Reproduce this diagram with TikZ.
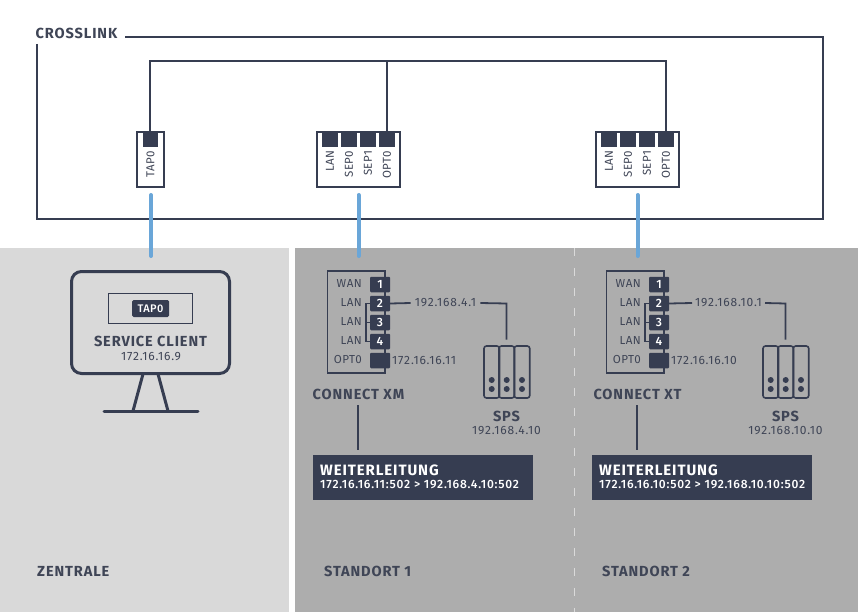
\documentclass[tikz,border=0pt]{standalone}
\usepackage{fontspec}
\setmainfont{Fira Sans}
\newfontfamily\hd[LetterSpace=6,BoldFont={Fira Sans Bold}]{Fira Sans}
\newfontfamily\sm[LetterSpace=4]{Fira Sans}
\newfontfamily\ipf[LetterSpace=7]{Fira Sans}
\newfontfamily\smb[LetterSpace=4]{Fira Sans Medium}
\newfontfamily\fwdf[LetterSpace=6.5]{Fira Sans Medium}
\definecolor{ink}{HTML}{363D51}
\definecolor{txt}{HTML}{3F4556}
\definecolor{wire}{HTML}{6AA6D8}
\definecolor{lightp}{HTML}{D9D9D9}
\definecolor{darkp}{HTML}{ADADAD}
\tikzset{
 line/.style={draw=ink,line width=1.8pt},
 thick line/.style={draw=ink,line width=2pt},
 blue link/.style={draw=wire,line width=4pt,line cap=round},
 panel/.style={fill=#1,draw=none,anchor=north west,inner sep=0pt},
 hwbox/.style={draw=ink,line width=1.6pt,fill=white,inner sep=0pt},
 slot/.style={fill=ink,draw=none,minimum width=15.6pt,minimum height=14.5pt,inner sep=0pt},
 port/.style={fill=ink,draw=none,rounded corners=1pt,minimum width=20pt,minimum height=15.5pt,inner sep=0pt,text=white,font=\smb\fontsize{12}{14}\selectfont},
 slotlabel/.style={rotate=90,anchor=east,text=txt,inner sep=0pt,font=\sm\fontsize{11.5}{12}\selectfont},
 small/.style={text=txt,inner sep=0pt,font=\sm\fontsize{11.6}{14}\selectfont},
 ipaddr/.style={text=txt,inner sep=0pt,font=\ipf\fontsize{12}{14}\selectfont},
 head/.style={text=txt,inner sep=0pt,font=\hd\bfseries\fontsize{14.6}{16}\selectfont},
 unit/.style={draw=ink,line width=1.6pt,rounded corners=2.5pt,minimum width=15.5pt,minimum height=52pt,inner sep=0pt},
 dot/.style={circle,fill=ink,draw=none,minimum size=6pt,inner sep=0pt},
 fwd/.style={fill=ink,draw=none,minimum width=220pt,minimum height=45pt,inner sep=0pt},
}
\newcommand{\boxfour}[2]{% prefix, x of box centre
 \node[hwbox,minimum width=83pt,minimum height=55pt] (#1box) at (#2,159.5) {};
 \node[slot] (#1a) at (#2-28.5,139.5) {};
 \node[slot] (#1b) at (#2-9.5,139.5) {};
 \node[slot] (#1c) at (#2+9.5,139.5) {};
 \node[slot] (#1d) at (#2+28.5,139.5) {};
 \node[slotlabel] (#1la) at (#2-28.5,150.5) {LAN};
 \node[slotlabel] (#1lb) at (#2-9.5,150.5) {SEP0};
 \node[slotlabel] (#1lc) at (#2+9.5,150.5) {SEP1};
 \node[slotlabel] (#1ld) at (#2+28.5,150.5) {OPT0};
}
\newcommand{\site}[6]{% prefix, x offset, model, opt ip, sps ip, forward
 \begin{scope}[shift={(#2,0)}]
 \node[hwbox,fill=none,minimum width=57.5pt,minimum height=102pt] (#1dev) at (356.2,322) {};
 \node[port] (#1p1) at (380,284.5) {1};
 \node[port] (#1p2) at (380,303.5) {2};
 \node[port] (#1p3) at (380,322.5) {3};
 \node[port] (#1p4) at (380,341.5) {4};
 \node[port] (#1p5) at (380,360.5) {};
 \node[small,anchor=east] (#1w) at (362,284) {WAN};
 \node[small,anchor=east] (#1l2) at (362,303) {LAN};
 \node[small,anchor=east] (#1l3) at (362,322) {LAN};
 \node[small,anchor=east] (#1l4) at (362,341) {LAN};
 \node[small,anchor=east] (#1o) at (362,360) {OPT0};
 \coordinate (#1br) at (366,322.5);
 \draw[line] (#1p2.west) -| (#1br) |- (#1p4.west);
 \draw[line] (#1br) -- (#1p3.west);
 \node[ipaddr,anchor=west] (#1opt) at (392,360) {#4};
 \node[unit] (#1u1) at (491.7,372) {};
 \node[unit] (#1u2) at (506.7,372) {};
 \node[unit] (#1u3) at (522,372) {};
 \foreach \n in {1,2,3}{
  \node[dot] at ($(#1u\n.center)+(0,8)$) {};
  \node[dot] at ($(#1u\n.center)+(0,17)$) {};
 }
 \coordinate (#1top) at (506.5,339.5);
 \node[head] (#1name) at (358.5,394.6) {#3};
 \node[head] (#1spsn) at (506.5,416.5) {SPS};
 \node[ipaddr] (#1spsi) at (506.5,431) {#5};
 \coordinate (#1t1) at (358,405);
 \coordinate (#1t2) at (358,450);
 \draw[line] (#1t1) -- (#1t2);
 \node[fwd] (#1fwd) at (423,477.5) {};
 \node[anchor=west,text=white,inner sep=0pt,font=\hd\bfseries\fontsize{15}{16}\selectfont] (#1ft) at (320,470) {WEITERLEITUNG};
 \node[anchor=west,text=white,inner sep=0pt,font=\fwdf\fontsize{12}{14}\selectfont] (#1fa) at (320,485) {#6};
 \end{scope}
}
\usetikzlibrary{calc}
\begin{document}
\begin{tikzpicture}[x=1pt,y=-1pt]
\useasboundingbox (0,0) rectangle (858,612);
\fill[white] (0,0) rectangle (858,612);
\node[panel=lightp,minimum width=289pt,minimum height=364pt] (zentrale) at (0,248) {};
\node[panel=darkp,minimum width=563pt,minimum height=364pt] (standorte) at (295,248) {};
\coordinate (sepT) at (574,248);
\coordinate (sepB) at (574,612);
\draw[white!55!darkp,line width=0.8pt,dash pattern=on 8pt off 12pt] (sepT) -- (sepB);

% crosslink frame
\node[head,anchor=west] (cross) at (35.5,33) {CROSSLINK};
\coordinate (fa) at (37,44);
\coordinate (fb) at (37,219.5);
\coordinate (fc) at (823,219.5);
\coordinate (fd) at (823,37);
\coordinate (fe) at (125,37);
\draw[thick line] (fa) -- (fb) -- (fc) -- (fd) -- (fe);

% switches
\node[hwbox,minimum width=27.5pt,minimum height=55pt] (tapbox) at (150.5,159.5) {};
\node[slot] (tapslot) at (150.5,139.5) {};
\node[slotlabel] (taplab) at (150.5,150.5) {TAP0};
\boxfour{m}{358.5}
\boxfour{n}{637.5}

\coordinate (busL) at (150,61);
\coordinate (busM) at (387,61);
\coordinate (busR) at (666,61);
\coordinate (tapT) at (150,133);
\draw[thick line] (tapT) -- (busL) -- (busR) -- (nd.north);
\draw[thick line] (busM) -- (md.north);

% uplinks
\coordinate (u1a) at (151,195);\coordinate (u1b) at (151,256);
\coordinate (u2a) at (358.5,195);\coordinate (u2b) at (358.5,256);
\coordinate (u3a) at (637.5,195);\coordinate (u3b) at (637.5,256);
\draw[blue link] (u1a) -- (u1b);
\draw[blue link] (u2a) -- (u2b);
\draw[blue link] (u3a) -- (u3b);

% monitor
\node[draw=ink,line width=3pt,rounded corners=10pt,minimum width=158pt,minimum height=102pt,inner sep=0pt] (screen) at (150.5,322.5) {};
\node[draw=ink,line width=1.6pt,minimum width=84pt,minimum height=30pt,inner sep=0pt] (win) at (150.5,308.5) {};
\node[fill=ink,rounded corners=1.5pt,minimum width=37pt,minimum height=17pt,inner sep=0pt,text=white,font=\smb\fontsize{11}{12}\selectfont] (tag) at (150.5,308.5) {TAP0};
\node[head] (sc) at (150.5,341.3) {SERVICE CLIENT};
\node[ipaddr] (scip) at (151,357) {172.16.16.9};
\coordinate (s1) at (143,374);\coordinate (s2) at (133,411);
\coordinate (s3) at (158,374);\coordinate (s4) at (168,411);
\coordinate (b1) at (104,411);\coordinate (b2) at (198,411);
\draw[draw=ink,line width=3pt] (s1) -- (s2);
\draw[draw=ink,line width=3pt] (s3) -- (s4);
\draw[draw=ink,line width=3pt,line cap=round] (b1) -- (b2);

% sites
\site{a}{0}{CONNECT XM}{172.16.16.11}{192.168.4.10}{172.16.16.11:502 \textgreater\ 192.168.4.10:502}
\site{b}{279}{CONNECT XT}{172.16.16.10}{192.168.10.10}{172.16.16.10:502 \textgreater\ 192.168.10.10:502}

\node[ipaddr] (aipt) at (445.5,303) {192.168.4.1};
\node[ipaddr] (bipt) at (728.5,303) {192.168.10.1};
\coordinate (ac) at (506.5,303.5);
\coordinate (bc) at (785.5,303.5);
\draw[line] (ap2.east) -- ([xshift=-4pt]aipt.west);
\draw[line] ([xshift=4pt]aipt.east) -- (ac) -- (atop);
\draw[line] (bp2.east) -- ([xshift=-3pt]bipt.west);
\draw[line] ([xshift=3pt]bipt.east) -- (bc) -- (btop);

\node[head,anchor=west] (lz) at (37,571.5) {ZENTRALE};
\node[head,anchor=west] (l1) at (324,571.5) {STANDORT 1};
\node[head,anchor=west] (l2) at (602,571.5) {STANDORT 2};
\end{tikzpicture}
\end{document}
